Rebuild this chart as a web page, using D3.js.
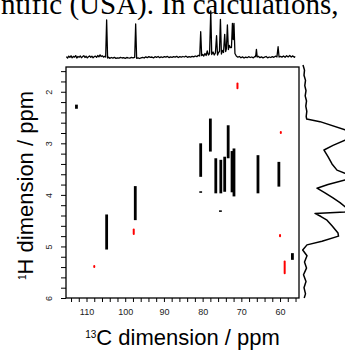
<!DOCTYPE html>
<html>
<head>
<meta charset="utf-8">
<script src="https://cdn.jsdelivr.net/npm/d3@7"></script>
<style>
  html, body { margin: 0; padding: 0; background: #fff; overflow: hidden; }
  svg { display: block; }
</style>
</head>
<body>
<svg id="chart" width="345" height="352"></svg>
<script>
// black cross peaks: 13C shift and the 1H range each streak covers
const blackC      = [112.6, 104.8, 97.4, 80.5, 80.5, 78.0, 76.6, 75.3, 75.4, 74.3, 73.4, 72.4, 71.9, 65.7, 60.3, 56.8];
const blackHStart = [2.25, 4.38, 3.83, 3.00, 3.93, 2.52, 3.29, 3.32, 4.30, 3.26, 2.65, 3.15, 3.10, 3.23, 3.36, 5.13];
const blackHEnd   = [2.33, 5.06, 4.49, 3.65, 3.96, 3.16, 3.97, 3.97, 4.33, 3.94, 3.29, 3.95, 4.03, 3.97, 3.84, 5.26];

// red cross peaks
const redC      = [71.0, 59.8, 60.0, 58.8, 108.0, 97.8];
const redHStart = [1.84, 2.78, 4.78, 5.29, 5.38, 4.67];
const redHEnd   = [1.93, 2.80, 4.80, 5.52, 5.40, 4.76];

// 13C projection on top (shift, intensity above baseline)
const topShift = [
  115.2, 114.9, 114.6, 114.3, 114.0, 113.7, 113.4, 113.1, 112.8, 112.5,
  112.2, 111.9, 111.6, 111.3, 111.0, 110.7, 110.4, 110.1, 109.8, 109.5,
  109.2, 108.9, 108.6, 108.3, 108.0, 107.7, 107.4, 107.1, 106.8, 106.5,
  106.2, 105.9, 105.6, 105.3, 105.05, 104.8, 104.55, 104.3, 104.0, 103.6,
  103.2, 102.8, 102.4, 102.0, 101.6, 101.2, 100.8, 100.4, 100.0, 99.6,
  99.2, 98.8, 98.4, 98.0, 97.55, 97.3, 97.05, 96.7, 96.3, 95.9,
  95.5, 95.1, 94.7, 94.3, 93.9, 93.5, 93.1, 92.7, 92.3, 91.9,
  91.5, 91.1, 90.7, 90.3, 89.9, 89.5, 89.1, 88.7, 88.3, 87.9,
  87.5, 87.1, 86.7, 86.3, 85.9, 85.5, 85.1, 84.7, 84.3, 83.9,
  83.5, 83.1, 82.7, 82.3, 81.9, 81.5, 81.1, 80.75, 80.5, 80.25,
  80.0, 79.7, 79.4, 79.1, 78.8, 78.5, 78.2, 77.9, 77.65, 77.3,
  77.0, 76.7, 76.4, 76.15, 75.9, 75.65, 75.4, 75.15, 74.9, 74.6,
  74.3, 74.05, 73.85, 73.6, 73.35, 73.1, 72.85, 72.55, 72.3, 72.1,
  71.9, 71.65, 71.3, 70.9, 70.5, 70.1, 69.7, 69.3, 68.9, 68.5,
  68.1, 67.7, 67.3, 66.9, 66.5, 66.3, 66.1, 65.9, 65.6, 65.2,
  64.8, 64.4, 64.0, 63.6, 63.2, 62.8, 62.4, 62.0, 61.6, 61.2,
  60.8, 60.5, 60.25, 59.9, 59.5, 59.1, 58.7, 58.3, 57.9, 57.5,
  57.1, 56.7, 56.3, 56.1
];
const topIntensity = [
  0.8, -0.6, 1.4, 0.2, 1.7, -0.3, 1.1, 0.4, 1.9, -0.5,
  1.0, 0.3, 1.5, -0.2, 0.9, 1.8, 0.0, 1.2, -0.4, 0.7,
  1.6, 0.2, 1.3, -0.3, 0.9, 1.4, 0.1, 2.0, 0.6, 2.6,
  1.0, 1.7, 0.4, 1.2, 0.5, 37.5, -0.5, 0.3, -0.8, 0.0,
  -0.6, 0.2, -0.9, -0.3, -0.7, 0.1, -0.5, -0.2, -0.8, 0.0,
  -0.4, -0.6, 0.1, -0.3, 0.2, 33.5, -0.8, -0.3, -1.0, -0.4,
  0.2, -0.5, 0.6, -0.2, 0.9, 0.1, 0.5, -0.4, 0.8, 0.2,
  1.0, -0.2, 0.6, 0.0, 0.9, 0.3, 1.1, -0.1, 0.7, 0.2,
  0.9, 0.4, 1.2, 0.0, 0.8, 0.3, 1.0, 0.5, 1.3, 0.2,
  0.9, 0.4, 1.1, 0.6, 1.5, 0.8, 2.2, 1.5, 25.8, 2.0,
  3.0, 1.5, 4.0, 2.0, 6.5, 2.5, 4.0, 46.5, 3.0, 5.5,
  2.5, 4.5, 21.8, 2.5, 5.0, 6.0, 38.2, 3.5, 7.0, 5.0,
  23.2, 6.0, 9.0, 32.5, 8.0, 12.0, 10.0, 10.0, 34.2, 18.0,
  34.2, 4.0, 1.5, 0.3, 1.0, -0.3, 0.6, -0.5, 0.4, -0.2,
  0.8, 0.0, 0.5, -0.3, 1.0, 0.8, 8.2, 0.5, 1.2, -0.2,
  0.6, -0.4, 0.3, 1.0, -0.3, 0.5, 0.0, 0.9, 0.2, 1.3,
  0.6, 10.8, 0.5, 1.2, 0.4, 1.5, 0.3, 1.8, 0.6, 2.0,
  0.5, 1.6, 0.2, 1.2
];

// 1H projection on the right (shift, intensity)
const sideShift = [
  1.48, 1.58, 1.68, 1.78, 1.88, 1.98, 2.08, 2.18, 2.28, 2.38,
  2.48, 2.53, 2.58, 2.74, 2.84, 2.94, 3.04, 3.13, 3.26, 3.40,
  3.52, 3.58, 3.68, 3.71, 3.80, 3.87, 3.96, 4.06, 4.15, 4.23,
  4.28, 4.33, 4.36, 4.42, 4.49, 4.60, 4.74, 4.80, 4.90, 4.97,
  5.07, 5.18, 5.30, 5.42, 5.55, 5.68, 5.80, 5.92, 6.00
];
const sideIntensity = [
  -1.0, 0.5, 0.0, 1.5, 0.8, 2.0, 1.2, 2.5, 1.8, 2.8,
  2.2, 2.7, 16.0, 41.0, 55.0, 41.0, 29.0, 20.0, 24.0, 28.0,
  33.0, 41.0, 50.0, 41.0, 24.0, 13.0, 21.0, 29.0, 36.0, 41.0,
  48.0, 41.0, 11.0, 17.0, 23.0, 28.0, 34.0, 34.5, 18.0, 3.0,
  -1.3, 3.0, 0.5, 2.5, -0.5, 2.0, 0.0, 1.5, 0.2
];

const xTicks = d3.range(56, 115, 2);
const yTicks = d3.range(8, 31).map(i => i / 5);

const svg = d3.select('#chart');
const sans = '"Liberation Sans", Arial, Helvetica, sans-serif';

// plot box
const boxLeft = 66, boxRight = 299, boxTop = 67, boxBottom = 298;

const x = d3.scaleLinear().domain([115.3, 55.1]).range([boxLeft, boxRight]);
const y = d3.scaleLinear().domain([1.52, 6.0]).range([boxTop, boxBottom]);
const topY = d3.scaleLinear().domain([0, 46]).range([57.5, 11.5]);
const sideX = d3.scaleLinear().domain([0, 41]).range([304, 345]);

// bit of the paper's text above the figure
svg.append('text')
  .attr('x', 1)
  .attr('y', 13.5)
  .attr('font-family', '"Liberation Serif", "Times New Roman", serif')
  .attr('font-size', '29px')
  .attr('fill', '#000')
  .text('ntific (USA). In calculations,');

// top projection
const topLine = d3.line()
  .x((d, i) => x(topShift[i]))
  .y(d => topY(d));

svg.append('path')
  .datum(topIntensity)
  .attr('fill', 'none')
  .attr('stroke', '#000')
  .attr('stroke-width', 1.3)
  .attr('stroke-linejoin', 'round')
  .attr('d', topLine);

// side projection
const sideLine = d3.line()
  .x(d => sideX(d))
  .y((d, i) => y(sideShift[i]));

svg.append('path')
  .datum(sideIntensity)
  .attr('fill', 'none')
  .attr('stroke', '#000')
  .attr('stroke-width', 1.5)
  .attr('stroke-linejoin', 'round')
  .attr('d', sideLine);

// frame
svg.append('rect')
  .attr('x', boxLeft)
  .attr('y', boxTop)
  .attr('width', boxRight - boxLeft)
  .attr('height', boxBottom - boxTop)
  .attr('fill', 'none')
  .attr('stroke', '#000')
  .attr('stroke-width', 1.3);

// cross peaks
svg.append('g').selectAll('line')
  .data(blackC)
  .join('line')
  .attr('x1', d => x(d))
  .attr('x2', d => x(d))
  .attr('y1', (d, i) => y(blackHStart[i]))
  .attr('y2', (d, i) => y(blackHEnd[i]))
  .attr('stroke', '#000')
  .attr('stroke-width', 2.8);

svg.append('g').selectAll('line')
  .data(redC)
  .join('line')
  .attr('x1', d => x(d))
  .attr('x2', d => x(d))
  .attr('y1', (d, i) => y(redHStart[i]))
  .attr('y2', (d, i) => y(redHEnd[i]))
  .attr('stroke', '#ff0000')
  .attr('stroke-width', 2)
  .attr('stroke-linecap', 'round');

// x axis
const xAxis = d3.axisBottom(x)
  .tickValues(xTicks)
  .tickSize(4)
  .tickPadding(7)
  .tickFormat(d => d % 10 === 0 ? d : '');

const gx = svg.append('g')
  .attr('transform', 'translate(0,' + boxBottom + ')')
  .call(xAxis);
gx.select('.domain').remove();
gx.selectAll('line').attr('stroke', '#000');
gx.selectAll('text')
  .attr('font-family', sans)
  .attr('font-size', '9px')
  .attr('fill', '#222');

// y axis
const yAxis = d3.axisLeft(y)
  .tickValues(yTicks)
  .tickSize(5)
  .tickFormat(d => Number.isInteger(d) ? d : '');

const gy = svg.append('g')
  .attr('transform', 'translate(' + boxLeft + ',0)')
  .call(yAxis);
gy.select('.domain').remove();
gy.selectAll('line').attr('stroke', '#000');
gy.selectAll('text')
  .attr('x', 0)
  .attr('dy', 0)
  .attr('text-anchor', 'middle')
  .attr('transform', 'translate(-14.3,0) rotate(-90)')
  .attr('font-family', sans)
  .attr('font-size', '9px')
  .attr('fill', '#222');

// axis titles
const xTitle = svg.append('text')
  .attr('x', 182.5)
  .attr('y', 345)
  .attr('text-anchor', 'middle')
  .attr('font-family', sans)
  .attr('font-size', '22px')
  .attr('fill', '#000');
xTitle.append('tspan').attr('font-size', '10px').attr('dy', -7.3).text('13');
xTitle.append('tspan').attr('dy', 7.3).text('C dimension / ppm');

const yTitle = svg.append('text')
  .attr('transform', 'translate(33.3,185.5) rotate(-90)')
  .attr('text-anchor', 'middle')
  .attr('font-family', sans)
  .attr('font-size', '22px')
  .attr('fill', '#000');
yTitle.append('tspan').attr('font-size', '10px').attr('dy', -7.3).text('1');
yTitle.append('tspan').attr('dy', 7.3).text('H dimension / ppm');
</script>
</body>
</html>
